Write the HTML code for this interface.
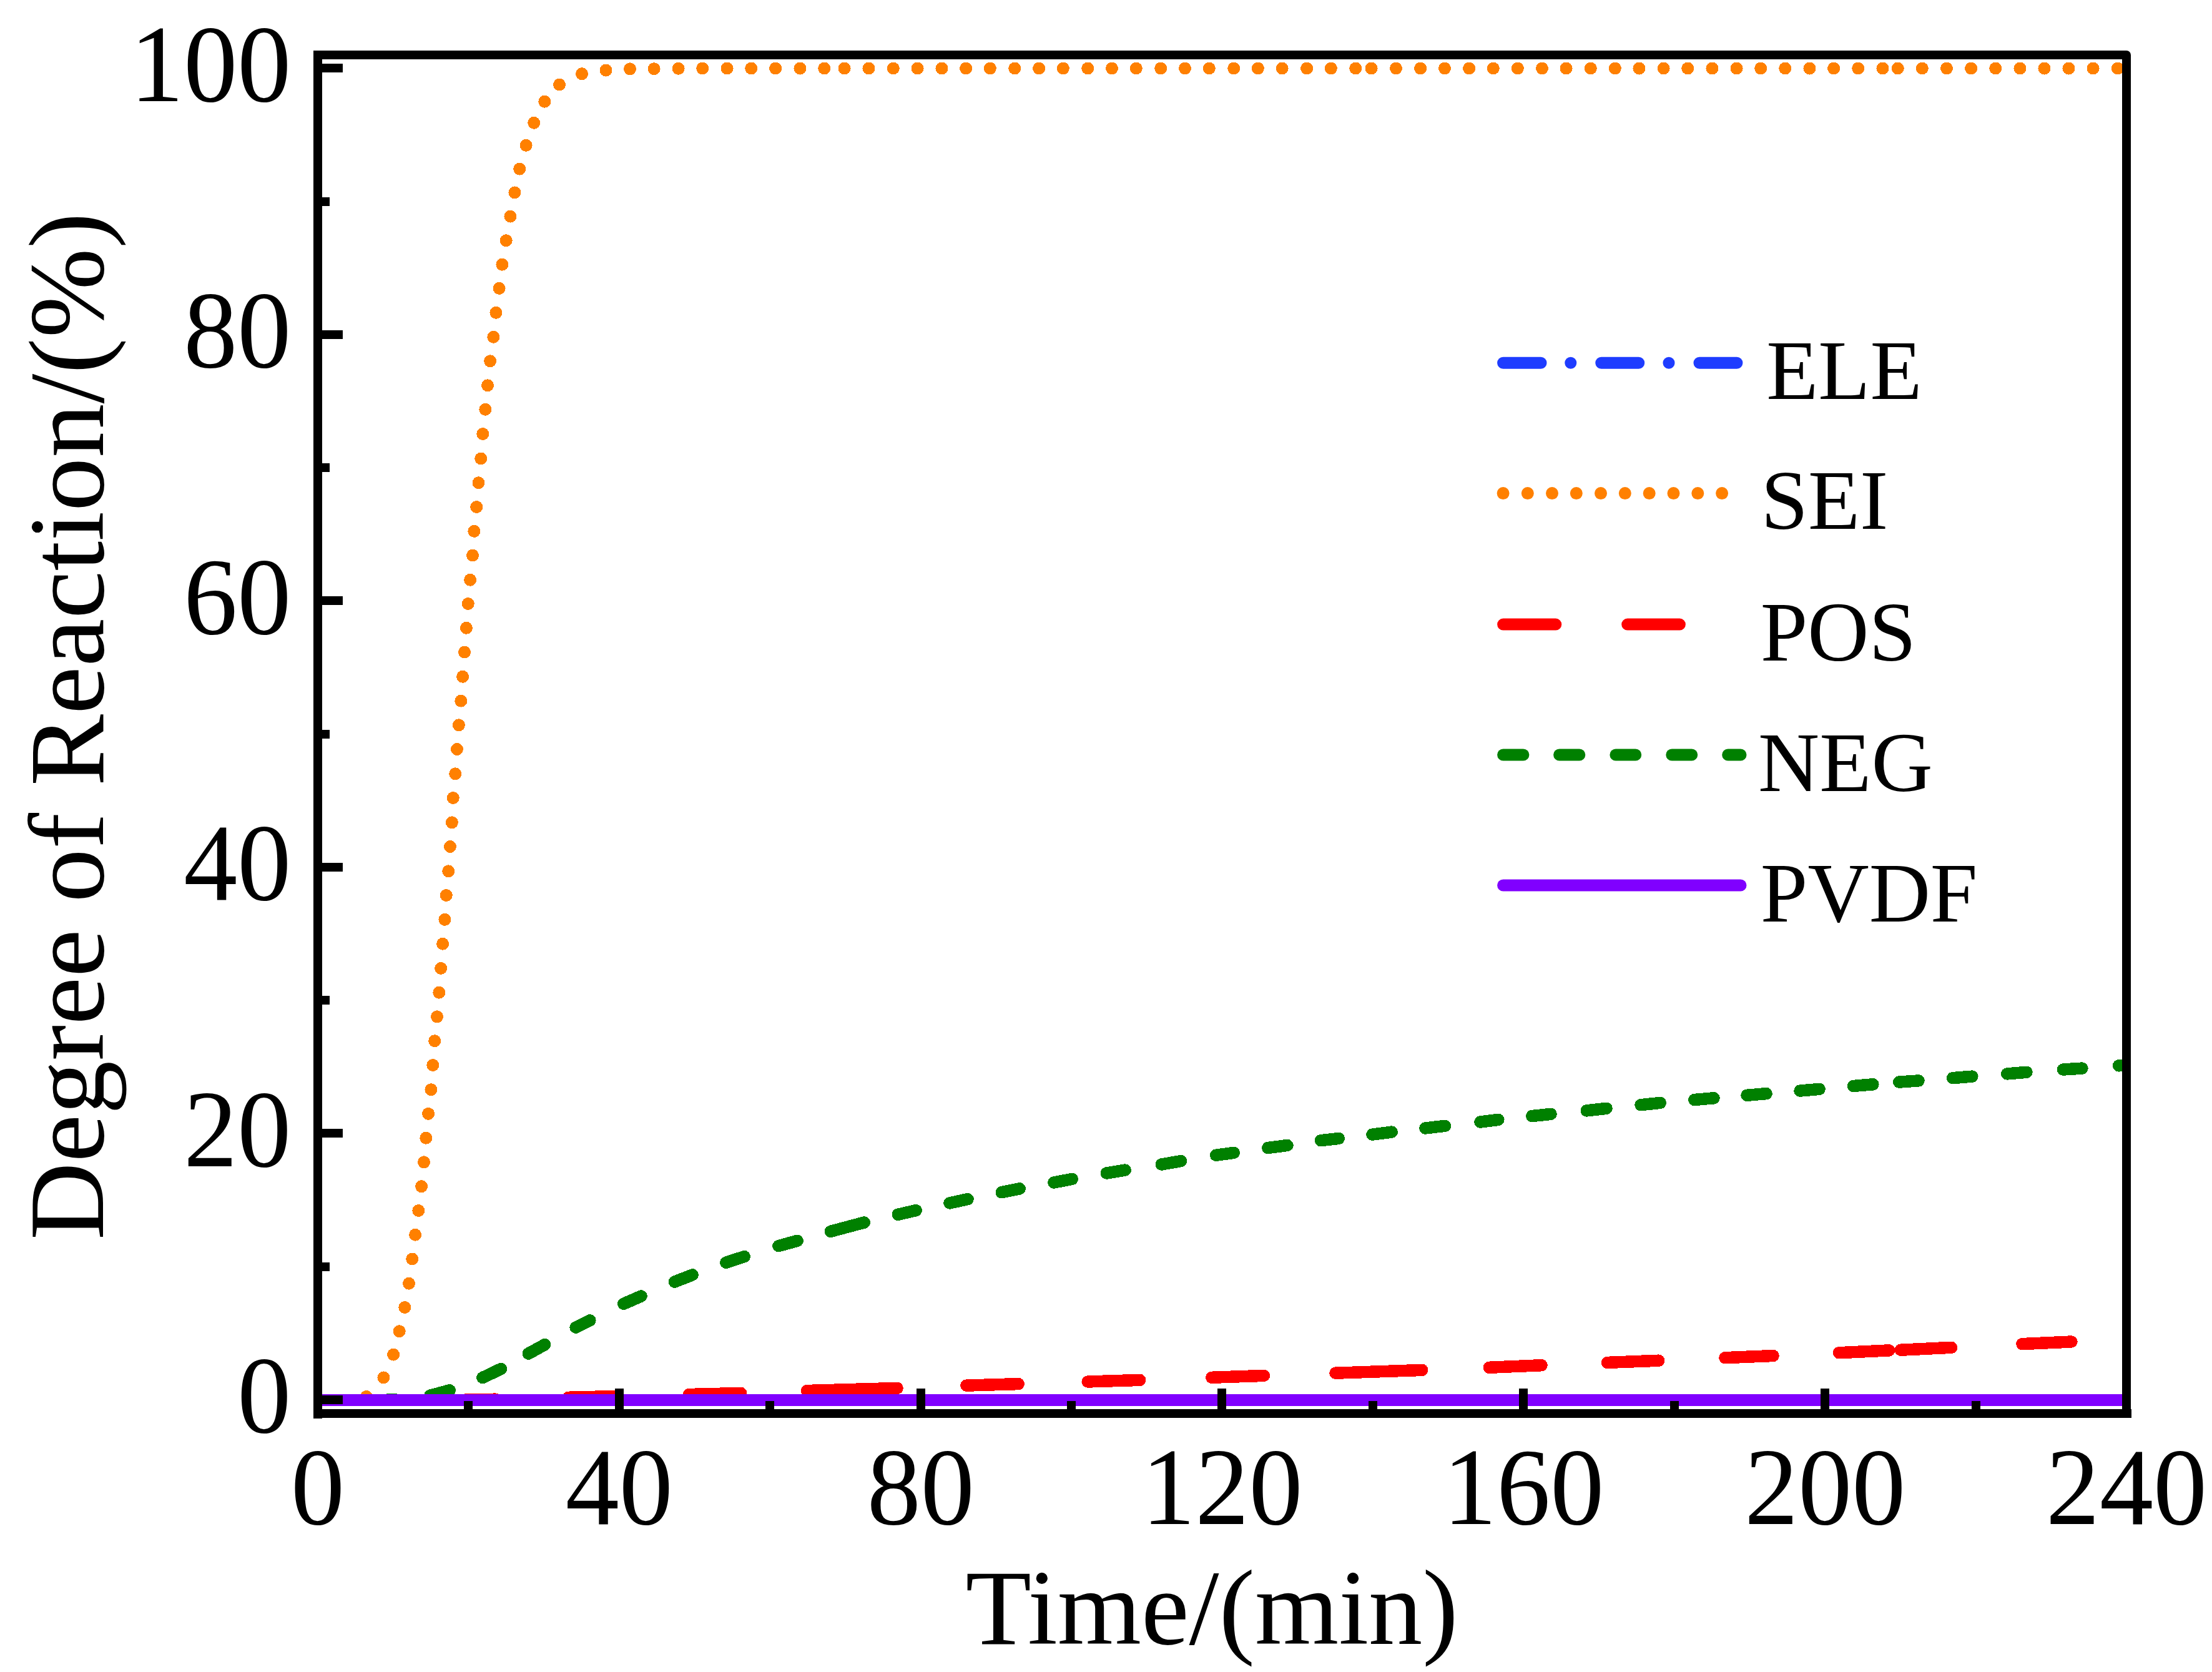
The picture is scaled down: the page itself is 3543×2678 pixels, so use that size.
<!DOCTYPE html>
<html><head><meta charset="utf-8"><title>Degree of Reaction</title>
<style>
html,body{margin:0;padding:0;background:#fff;}
body{width:3543px;height:2678px;overflow:hidden;}
svg{display:block;}
text{font-family:"Liberation Serif",serif;fill:#000;}
</style></head><body>
<svg width="3543" height="2678" viewBox="0 0 3543 2678">
<rect x="0" y="0" width="3543" height="2678" fill="#fff"/>
<defs><clipPath id="plot"><rect x="516" y="95" width="2883" height="2162"/></clipPath></defs>
<g clip-path="url(#plot)">
<g fill="#FF8000" shape-rendering="crispEdges"><circle cx="586.9" cy="2237" r="10"/><circle cx="614.4" cy="2206.4" r="10"/><circle cx="630.1" cy="2169.6" r="10"/><circle cx="639.7" cy="2132.2" r="10"/><circle cx="648.3" cy="2094" r="10"/><circle cx="655" cy="2055.7" r="10"/><circle cx="660.3" cy="2016.5" r="10"/><circle cx="665.1" cy="1977.7" r="10"/><circle cx="670.3" cy="1939" r="10"/><circle cx="675.1" cy="1900.2" r="10"/><circle cx="679" cy="1861.4" r="10"/><circle cx="682.3" cy="1822.7" r="10"/><circle cx="686.1" cy="1783.9" r="10"/><circle cx="690.4" cy="1745.2" r="10"/><circle cx="693.3" cy="1706" r="10"/><circle cx="696.2" cy="1667.2" r="10"/><circle cx="700" cy="1628.4" r="10"/><circle cx="703.3" cy="1589.7" r="10"/><circle cx="706.2" cy="1550.9" r="10"/><circle cx="709.1" cy="1511.7" r="10"/><circle cx="712.4" cy="1472.9" r="10"/><circle cx="714.8" cy="1434" r="10"/><circle cx="718.2" cy="1395.3" r="10"/><circle cx="721" cy="1356" r="10"/><circle cx="723.9" cy="1317.3" r="10"/><circle cx="725.8" cy="1278" r="10"/><circle cx="729.2" cy="1239.3" r="10"/><circle cx="732" cy="1200" r="10"/><circle cx="734.9" cy="1161.3" r="10"/><circle cx="738.3" cy="1122.6" r="10"/><circle cx="741.1" cy="1083.8" r="10"/><circle cx="744" cy="1044.6" r="10"/><circle cx="746.9" cy="1005.8" r="10"/><circle cx="749.8" cy="967" r="10"/><circle cx="753.1" cy="928.8" r="10"/><circle cx="757" cy="889.6" r="10"/><circle cx="759.3" cy="850.8" r="10"/><circle cx="763.2" cy="812" r="10"/><circle cx="766.5" cy="773.3" r="10"/><circle cx="770.3" cy="734.5" r="10"/><circle cx="773.3" cy="695" r="10"/><circle cx="777.3" cy="655.8" r="10"/><circle cx="781" cy="617.3" r="10"/><circle cx="785.1" cy="578.3" r="10"/><circle cx="790.3" cy="539.8" r="10"/><circle cx="794.4" cy="500.8" r="10"/><circle cx="799.6" cy="461.9" r="10"/><circle cx="804.4" cy="423.7" r="10"/><circle cx="810.7" cy="385.2" r="10"/><circle cx="817.4" cy="346.6" r="10"/><circle cx="824.4" cy="308.4" r="10"/><circle cx="832.2" cy="270.6" r="10"/><circle cx="842.6" cy="232.8" r="10"/><circle cx="855.2" cy="196.8" r="10"/><circle cx="872.3" cy="162.7" r="10"/><circle cx="896" cy="135.6" r="10"/><circle cx="932" cy="118.2" r="10"/><circle cx="970.5" cy="112.6" r="10"/><circle cx="1009" cy="110.4" r="10"/><circle cx="1047.6" cy="110.2" r="10"/><circle cx="1086.6" cy="109.8" r="10"/><circle cx="1125.2" cy="109.5" r="10"/><circle cx="1164.6" cy="109.5" r="10"/><circle cx="1203.3" cy="109.5" r="10"/><circle cx="1242.1" cy="109.5" r="10"/><circle cx="1281.5" cy="109.5" r="10"/><circle cx="1320.3" cy="109.5" r="10"/><circle cx="1352.6" cy="109.5" r="10"/><circle cx="1391.4" cy="109.5" r="10"/><circle cx="1430.8" cy="109.5" r="10"/><circle cx="1469.6" cy="109.5" r="10"/><circle cx="1508.4" cy="109.5" r="10"/><circle cx="1547.1" cy="109.5" r="10"/><circle cx="1585.9" cy="109.5" r="10"/><circle cx="1625.3" cy="109.5" r="10"/><circle cx="1664.1" cy="109.5" r="10"/><circle cx="1702.9" cy="109.5" r="10"/><circle cx="1742.3" cy="109.5" r="10"/><circle cx="1781" cy="109.5" r="10"/><circle cx="1819.8" cy="109.5" r="10"/><circle cx="1859.2" cy="109.5" r="10"/><circle cx="1898" cy="109.5" r="10"/><circle cx="1936.8" cy="109.5" r="10"/><circle cx="1976.2" cy="109.5" r="10"/><circle cx="2014.9" cy="109.5" r="10"/><circle cx="2053.7" cy="109.5" r="10"/><circle cx="2093.1" cy="109.5" r="10"/><circle cx="2131.9" cy="109.5" r="10"/><circle cx="2171.3" cy="109.5" r="10"/><circle cx="2196.6" cy="109.5" r="10"/><circle cx="2236" cy="109.5" r="10"/><circle cx="2275.1" cy="109.5" r="10"/><circle cx="2314" cy="109.5" r="10"/><circle cx="2353.1" cy="109.5" r="10"/><circle cx="2391.8" cy="109.5" r="10"/><circle cx="2430.9" cy="109.5" r="10"/><circle cx="2470" cy="109.5" r="10"/><circle cx="2508.6" cy="109.5" r="10"/><circle cx="2547.8" cy="109.5" r="10"/><circle cx="2586.9" cy="109.5" r="10"/><circle cx="2625.5" cy="109.5" r="10"/><circle cx="2664.7" cy="109.5" r="10"/><circle cx="2703.3" cy="109.5" r="10"/><circle cx="2742.4" cy="109.5" r="10"/><circle cx="2781.6" cy="109.5" r="10"/><circle cx="2820.2" cy="109.5" r="10"/><circle cx="2859.3" cy="109.5" r="10"/><circle cx="2898.5" cy="109.5" r="10"/><circle cx="2937.1" cy="109.5" r="10"/><circle cx="2976.2" cy="109.5" r="10"/><circle cx="3015.4" cy="109.5" r="10"/><circle cx="3039.7" cy="109.5" r="10"/><circle cx="3078.8" cy="109.5" r="10"/><circle cx="3118" cy="109.5" r="10"/><circle cx="3157.1" cy="109.5" r="10"/><circle cx="3196.3" cy="109.5" r="10"/><circle cx="3235.4" cy="109.5" r="10"/><circle cx="3274.5" cy="109.5" r="10"/><circle cx="3313.5" cy="109.5" r="10"/><circle cx="3352.6" cy="109.5" r="10"/><circle cx="3391.9" cy="109.5" r="10"/></g>
<g stroke="#FF0000" stroke-width="19.5" stroke-linecap="round" fill="none" shape-rendering="crispEdges"><line x1="745" y1="2242" x2="794" y2="2241.2"/><line x1="910.4" y1="2238.3" x2="988" y2="2236.4"/><line x1="1103.6" y1="2233.5" x2="1186.6" y2="2231.4"/><line x1="1292.5" y1="2227.5" x2="1437.1" y2="2223.4"/><line x1="1547.8" y1="2219.1" x2="1631.2" y2="2216.6"/><line x1="1742.2" y1="2213" x2="1825.6" y2="2210.4"/><line x1="1940.8" y1="2206.3" x2="2024.3" y2="2203.4"/><line x1="2139" y1="2199.2" x2="2277.7" y2="2194.4"/><line x1="2385.4" y1="2190.3" x2="2469.1" y2="2186.7"/><line x1="2574.6" y1="2182.4" x2="2656.7" y2="2179.2"/><line x1="2762.9" y1="2174.7" x2="2840.1" y2="2171.5"/><line x1="2945.5" y1="2166.7" x2="3025.6" y2="2162.9"/><line x1="3044.5" y1="2162.2" x2="3125.5" y2="2158.3"/><line x1="3238.9" y1="2152.6" x2="3317.9" y2="2149"/></g>
<g stroke="#008000" stroke-width="19.5" stroke-linecap="round" fill="none" shape-rendering="crispEdges"><line x1="615" y1="2242.4" x2="633" y2="2241.7"/><line x1="688.9" y1="2235.2" x2="720.2" y2="2226.8"/><line x1="773" y1="2206.6" x2="802.4" y2="2192.5"/><line x1="846.3" y1="2168.1" x2="872.5" y2="2153.7"/><line x1="922.1" y1="2126.1" x2="944.9" y2="2114.9"/><line x1="998.8" y1="2088.3" x2="1027" y2="2076"/><line x1="1080.5" y1="2053.1" x2="1109.1" y2="2041.9"/><line x1="1162.9" y1="2022.2" x2="1192.2" y2="2012.6"/><line x1="1247" y1="1995.6" x2="1277.2" y2="1987.3"/><line x1="1330.2" y1="1972.4" x2="1384.3" y2="1958"/><line x1="1438.2" y1="1945.3" x2="1467.1" y2="1938.6"/><line x1="1521" y1="1926.9" x2="1550" y2="1920.6"/><line x1="1604.2" y1="1909.7" x2="1633.2" y2="1903.9"/><line x1="1688" y1="1894" x2="1717.2" y2="1888.4"/><line x1="1772.4" y1="1879" x2="1802.2" y2="1874.1"/><line x1="1860.4" y1="1865" x2="1891.5" y2="1859.6"/><line x1="1947.6" y1="1850.2" x2="1976.2" y2="1846.4"/><line x1="2030.8" y1="1838.5" x2="2061.9" y2="1834.5"/><line x1="2115.4" y1="1826.7" x2="2144.2" y2="1823.5"/><line x1="2198" y1="1817.1" x2="2229.2" y2="1813.1"/><line x1="2282.9" y1="1807" x2="2314.4" y2="1803.3"/><line x1="2371" y1="1797" x2="2399.9" y2="1793.4"/><line x1="2453.8" y1="1787.6" x2="2484" y2="1784.4"/><line x1="2541.3" y1="1778.9" x2="2573" y2="1775.3"/><line x1="2628" y1="1769.7" x2="2659.3" y2="1766.4"/><line x1="2713.9" y1="1761.5" x2="2745" y2="1758.8"/><line x1="2798" y1="1754.3" x2="2829.1" y2="1751.6"/><line x1="2883" y1="1747.1" x2="2914.1" y2="1744.4"/><line x1="2968.4" y1="1739.5" x2="2999.9" y2="1736.8"/><line x1="3041.7" y1="1733.1" x2="3073" y2="1730.9"/><line x1="3127.6" y1="1726.7" x2="3158.9" y2="1724.1"/><line x1="3214.7" y1="1719.9" x2="3246" y2="1717.3"/><line x1="3304.5" y1="1713" x2="3334.9" y2="1711.1"/><line x1="3393.6" y1="1706.8" x2="3424" y2="1704.6"/></g>
<rect x="509" y="2233" width="2897" height="19" fill="#8000FF"/>
</g>
<g fill="#000"><rect x="502" y="81" width="14" height="2191"/><rect x="502" y="81" width="2904" height="14"/><rect x="3399" y="88" width="14" height="2183"/><circle cx="3406" cy="88" r="7"/><rect x="502" y="2257" width="2912" height="14"/><rect x="516" y="2235" width="33" height="14"/><rect x="516" y="2022" width="12" height="14"/><rect x="516" y="1808" width="33" height="14"/><rect x="516" y="1595" width="12" height="14"/><rect x="516" y="1382" width="33" height="14"/><rect x="516" y="1169" width="12" height="14"/><rect x="516" y="955" width="33" height="14"/><rect x="516" y="742" width="12" height="14"/><rect x="516" y="529" width="33" height="14"/><rect x="516" y="316" width="12" height="14"/><rect x="516" y="102" width="33" height="14"/><rect x="743" y="2244" width="14" height="13"/><rect x="985" y="2224" width="14" height="33"/><rect x="1226" y="2244" width="14" height="13"/><rect x="1468" y="2224" width="14" height="33"/><rect x="1709" y="2244" width="14" height="13"/><rect x="1950" y="2224" width="14" height="33"/><rect x="2192" y="2244" width="14" height="13"/><rect x="2433" y="2224" width="14" height="33"/><rect x="2675" y="2244" width="14" height="13"/><rect x="2916" y="2224" width="14" height="33"/><rect x="3158" y="2244" width="14" height="13"/></g>
<g font-size="172"><text transform="translate(466.3 2294.3) scale(1 1.018)" text-anchor="end">0</text><text transform="translate(466.3 1867.8) scale(1 1.018)" text-anchor="end">20</text><text transform="translate(466.3 1441.2) scale(1 1.018)" text-anchor="end">40</text><text transform="translate(466.3 1014.7) scale(1 1.018)" text-anchor="end">60</text><text transform="translate(466.3 588.1) scale(1 1.018)" text-anchor="end">80</text><text transform="translate(466.3 161.6) scale(1 1.018)" text-anchor="end">100</text><text transform="translate(509 2441.1) scale(1 1.018)" text-anchor="middle">0</text><text transform="translate(991.8 2441.1) scale(1 1.018)" text-anchor="middle">40</text><text transform="translate(1474.7 2441.1) scale(1 1.018)" text-anchor="middle">80</text><text transform="translate(1957.5 2441.1) scale(1 1.018)" text-anchor="middle">120</text><text transform="translate(2440.3 2441.1) scale(1 1.018)" text-anchor="middle">160</text><text transform="translate(2923.2 2441.1) scale(1 1.018)" text-anchor="middle">200</text><text transform="translate(3406 2441.1) scale(1 1.018)" text-anchor="middle">240</text></g>
<text transform="translate(1546.6 2633.3) scale(1.003 1.0)" font-size="172">Time/(min)</text>
<text transform="translate(165 1986) rotate(-90) scale(1.0018 1)" x="0" y="0" font-size="172">Degree of Reaction/(%)</text>
<g stroke-linecap="round" fill="none" stroke-width="19"><line x1="2407.6" y1="581.3" x2="2468" y2="581.3" stroke="#1E3CFF"/><line x1="2515.8" y1="581.3" x2="2515.8" y2="581.3" stroke="#1E3CFF"/><line x1="2564.8" y1="581.3" x2="2624.7" y2="581.3" stroke="#1E3CFF"/><line x1="2673" y1="581.3" x2="2673" y2="581.3" stroke="#1E3CFF"/><line x1="2722" y1="581.3" x2="2781.9" y2="581.3" stroke="#1E3CFF"/></g>
<g fill="#FF8000"><circle cx="2407.6" cy="790.1" r="10"/><circle cx="2446.8" cy="790.1" r="10"/><circle cx="2486" cy="790.1" r="10"/><circle cx="2524.8" cy="790.1" r="10"/><circle cx="2564" cy="790.1" r="10"/><circle cx="2602.8" cy="790.1" r="10"/><circle cx="2641.7" cy="790.1" r="10"/><circle cx="2680.5" cy="790.1" r="10"/><circle cx="2719.3" cy="790.1" r="10"/><circle cx="2758.1" cy="790.1" r="10"/></g>
<g stroke-linecap="round" fill="none" stroke-width="19"><line x1="2407.6" y1="1000.1" x2="2491.8" y2="1000.1" stroke="#FF0000"/><line x1="2606.7" y1="1000.1" x2="2690.4" y2="1000.1" stroke="#FF0000"/><line x1="2407.6" y1="1209" x2="2439.9" y2="1209" stroke="#008000"/><line x1="2497.6" y1="1209" x2="2529.8" y2="1209" stroke="#008000"/><line x1="2587.9" y1="1209" x2="2619.7" y2="1209" stroke="#008000"/><line x1="2677.8" y1="1209" x2="2709.7" y2="1209" stroke="#008000"/><line x1="2767.7" y1="1209" x2="2788" y2="1209" stroke="#008000"/><line x1="2407.6" y1="1418" x2="2788" y2="1418" stroke="#8000FF"/></g>
<g font-size="136"><text x="2829.3" y="638.8">ELE</text><text x="2820.4" y="847.2">SEI</text><text x="2819.7" y="1057.8">POS</text><text x="2816.1" y="1266.6">NEG</text><text x="2819.8" y="1475.7">PVDF</text></g>
</svg>
</body></html>
